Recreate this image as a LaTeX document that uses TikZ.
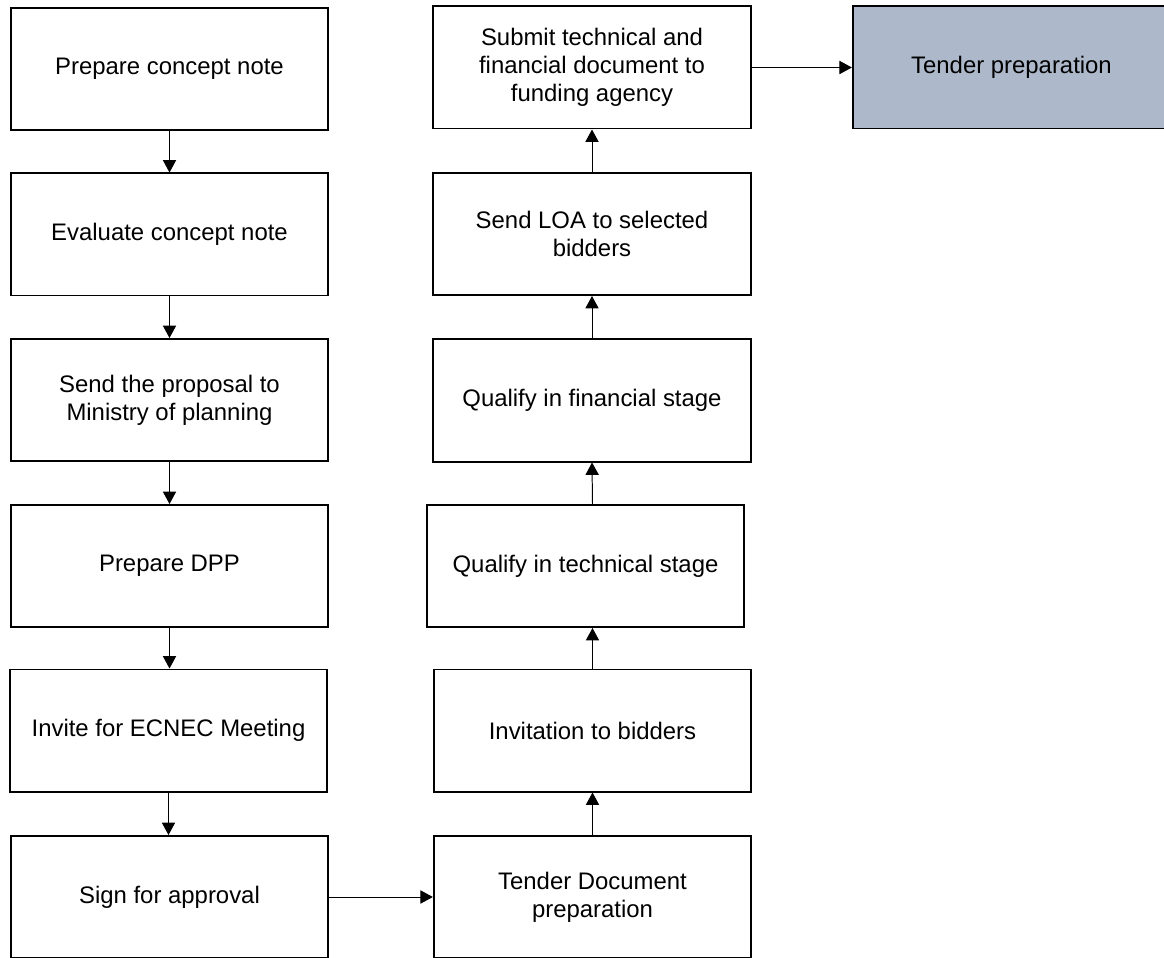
\documentclass[tikz,border=0pt]{standalone}
\usepackage{fontspec}
\setmainfont{Liberation Sans}
\usetikzlibrary{arrows.meta, positioning}
\definecolor{monGrisBleu}{RGB}{173, 185, 202}

\tikzset{
  etape/.style={draw, line width=1.4pt, minimum width=7.93cm, minimum height=3.05cm,
    inner sep=0pt, align=center, font=\fontsize{17pt}{20pt}\selectfont},
  fleche/.style={line width=0.7pt, -{Triangle[width=0.33cm, length=0.31cm]}}
}

\begin{document}
\begin{tikzpicture}[x=0.025cm, y=-0.025cm]
        % Cadre
        \useasboundingbox (0,0) rectangle (1164,958);
        
        % Colonne de gauche
        \node[etape] (prep) at (169.5,69) {Prepare concept note};
        \node[etape] (eval) at (169.5,234.5) {Evaluate concept note};
        \node[etape] (envoi) at (169.5,400) {Send the proposal to\\Ministry of planning};
        \node[etape] (dpp) at (169.5,566) {Prepare DPP};
        \node[etape] (ecnec) at (168.5,730.5) {Invite for ECNEC Meeting};
        \node[etape] (signe) at (169.5,897) {Sign for approval};
        
        % Colonne de droite
        \node[etape] (doc) at (592.5,897) {Tender Document\\preparation};
        \node[etape] (invit) at (592.5,730.5) {Invitation to bidders};
        \node[etape] (tech) at (585.5,566) {Qualify in technical stage};
        \node[etape] (fin) at (592,400.5) {Qualify in financial stage};
        \node[etape] (loa) at (592,234) {Send LOA to selected\\bidders};
        \node[etape] (soum) at (592,67.5) {Submit technical and\\financial document to\\funding agency};
        
        % Etape finale en gris
        \node[etape, fill=monGrisBleu] (appel) at (1011.5,67.5) {Tender preparation};
        
        % Fleches vers le bas
        \draw[fleche] (prep) -- (eval);
        \draw[fleche] (eval) -- (envoi);
        \draw[fleche] (envoi) -- (dpp);
        \draw[fleche] (dpp.south) -- (dpp.south |- ecnec.north);
        \draw[fleche] (ecnec.south) -- (ecnec.south |- signe.north);
        
        % Passage a droite
        \draw[fleche] (signe) -- (doc);
        
        % Fleches vers le haut
        \draw[fleche] (doc) -- (invit);
        \draw[fleche] (invit.north) -- (invit.north |- tech.south);
        \draw[fleche] (invit.north |- tech.north) -- (fin.south);
        \draw[fleche] (fin) -- (loa);
        \draw[fleche] (loa) -- (soum);
        
        % Vers la preparation
        \draw[fleche] (soum) -- (appel);
    \end{tikzpicture}
\end{document}
